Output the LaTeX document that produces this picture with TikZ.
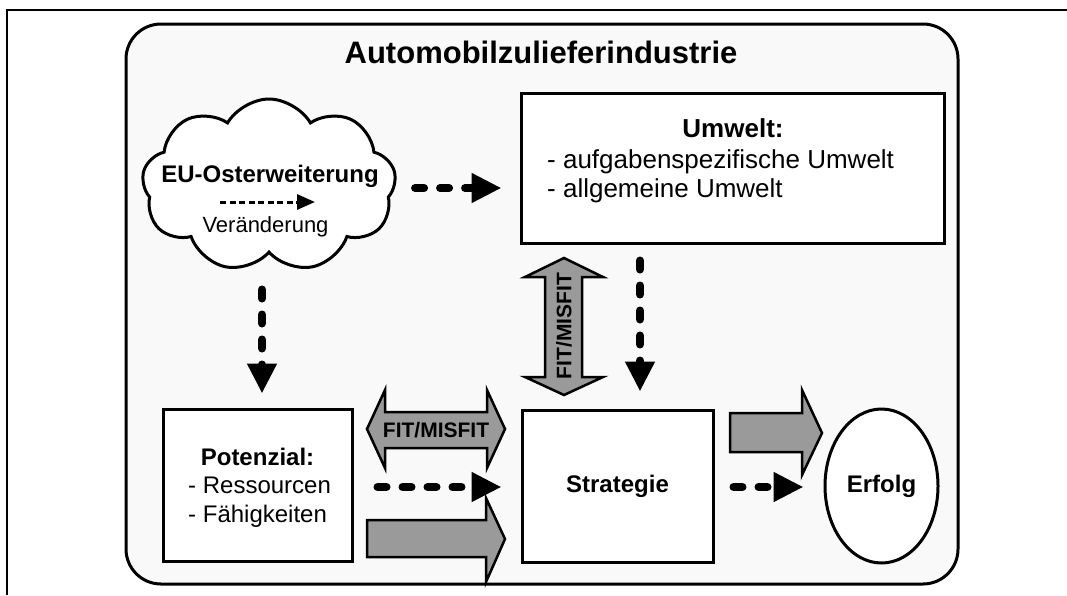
\documentclass[tikz,border=0pt]{standalone}
\usepackage{fontspec}
\setmainfont{Liberation Sans}
\usetikzlibrary{shapes.geometric,shapes.symbols,arrows.meta}
\definecolor{bgfill}{HTML}{F9F9F9}
\definecolor{arrgray}{HTML}{9A9A9A}
\newcommand{\fsz}[1]{\fontsize{#1}{#1}\selectfont}
\begin{document}
\begin{tikzpicture}[x=1pt,y=-1pt,
  box/.style={draw, line width=3pt, fill=white, rectangle, inner sep=0pt},
  txt/.style={inner sep=0pt, font=\fsz{24}},
  btxt/.style={inner sep=0pt, font=\fsz{24}\bfseries},
  dasharr/.style={line width=8pt, line cap=round, dash pattern=on 9pt off 16pt, -{Triangle[length=30pt,width=28pt]}},
  grayarr/.style={draw, line width=2.5pt, fill=arrgray, line join=miter},
]
\useasboundingbox (0,0) rectangle (1067,595);
\fill[white] (0,0) rectangle (1067,595);
\draw[line width=2pt] (7,595) -- (7,10) -- (1067,10);
\draw[line width=3pt, fill=bgfill, rounded corners=35pt] (126,24) rectangle (958,584);
\node[inner sep=0pt, font=\fsz{31}\bfseries, anchor=base] (title) at (541,63) {Automobilzulieferindustrie};

% boxes
\node[box, minimum width=423pt, minimum height=150pt] (umw) at (732.5,168) {};
\node[inner sep=0pt, font=\fsz{26}\bfseries, anchor=base] (umwt) at (733,137) {Umwelt:};
\node[inner sep=0pt, font=\fsz{26}, anchor=base west] (umw1) at (547,168) {- aufgabenspezifische Umwelt};
\node[inner sep=0pt, font=\fsz{26}, anchor=base west] (umw2) at (547,197) {- allgemeine Umwelt};

\node[box, minimum width=189pt, minimum height=152pt] (pot) at (257.5,485) {};
\node[btxt, anchor=base] (pott) at (257.5,465) {Potenzial:};
\node[txt, anchor=base west] (pot1) at (188,493) {- Ressourcen};
\node[txt, anchor=base west] (pot2) at (188,522) {- Fähigkeiten};

\node[box, minimum width=191pt, minimum height=152pt, font=\fsz{24}\bfseries] (str) at (617.5,486) {Strategie};
\node[draw, line width=3pt, fill=white, ellipse, inner sep=0pt, minimum width=113pt, minimum height=154pt, font=\fsz{24}\bfseries] (erf) at (881.5,486) {Erfolg};

% cloud
\node[cloud, cloud puffs=9, cloud puff arc=120, aspect=1.47, minimum width=254pt, minimum height=173pt, inner sep=0pt, draw, line width=3pt, fill=white] (eu) at (269,185.5) {};
\node[btxt, anchor=base] (eut) at (270,182) {EU-Osterweiterung};
\node[inner sep=0pt, font=\fsz{22}, anchor=base] (veraend) at (265.5,232) {Veränderung};
\coordinate (va) at (220,202);
\coordinate (vb) at (315,202);
\draw[line width=3pt, dash pattern=on 6pt off 3.5pt, -{Triangle[length=18pt,width=15pt]}] (va) -- (vb);

% gray arrows
\draw[grayarr] (564,258) -- (603,277) -- (582,277) -- (582,377) -- (603,377) -- (564,395) -- (525,377) -- (545,377) -- (545,277) -- (525,277) -- cycle;
\node[inner sep=0pt, font=\fsz{21}\bfseries, rotate=90] (fitv) at (564,326) {FIT/MISFIT};
\draw[grayarr] (367,429) -- (385,390) -- (385,412) -- (487,412) -- (487,390) -- (505,429) -- (487,468) -- (487,448) -- (385,448) -- (385,468) -- cycle;
\node[inner sep=0pt, font=\fsz{21}\bfseries] (fith) at (436,430) {FIT/MISFIT};
\draw[grayarr] (367,520) -- (486,520) -- (486,498) -- (505,539) -- (486,582) -- (486,557) -- (367,557) -- cycle;
\draw[grayarr] (730,413) -- (802,413) -- (802,390) -- (822,433) -- (802,475) -- (802,452) -- (730,452) -- cycle;

% dashed connectors
\draw[dasharr] ([shift={(19,2.5)}]eu.east) -- ([shift={(-18,2.5)}]eu.east -| umw.west);
\draw[dasharr] ([shift={(4.5,-118)}]pot.north) -- ([shift={(4.5,-14)}]pot.north);
\draw[dasharr] ([shift={(22.5,-148)}]str.north) -- ([shift={(22.5,-17)}]str.north);
\draw[dasharr] ([shift={(24,2)}]pot.east) -- ([shift={(-19,1)}]str.west);
\draw[dasharr] ([shift={(19,1)}]str.east) -- ([shift={(-20,1)}]erf.west);
\end{tikzpicture}
\end{document}
